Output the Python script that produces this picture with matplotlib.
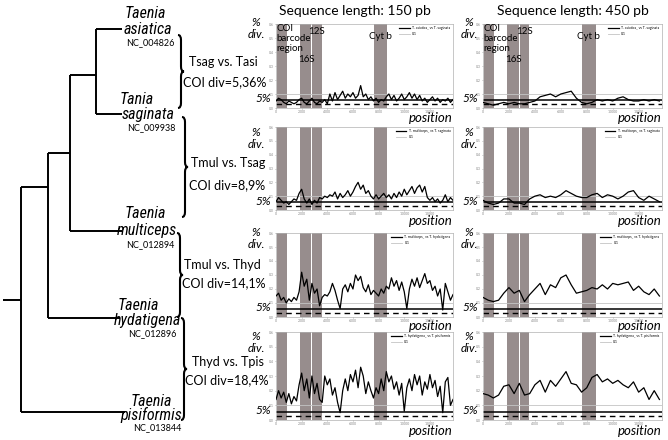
import matplotlib
matplotlib.use('Agg')
import matplotlib.pyplot as plt
from matplotlib import font_manager
from matplotlib.path import Path
from matplotlib.patches import PathPatch
from matplotlib.transforms import blended_transform_factory

W, H = 668, 440

# positions (bp) for the 150 pb windows and the 450 pb windows
pos_150 = list(range(0, 14000, 200))
pos_450 = list(range(0, 14000, 400))

# sliding-window divergence
tsag_tasi_150 = [0.05, 0.07, 0.06, 0.04, 0.03, 0.05, 0.04, 0.03, 0.04, 0.06,
                 0.07, 0.04, 0.03, 0.05, 0.07, 0.04, 0.03, 0.05, 0.04, 0.06,
                 0.03, 0.10, 0.05, 0.11, 0.06, 0.09, 0.12, 0.07, 0.10, 0.08,
                 0.11, 0.07, 0.09, 0.16, 0.08, 0.10, 0.06, 0.08, 0.05, 0.07,
                 0.04, 0.06, 0.05, 0.08, 0.10, 0.06, 0.09, 0.05, 0.07, 0.10,
                 0.06, 0.08, 0.11, 0.07, 0.10, 0.06, 0.09, 0.05, 0.07, 0.04,
                 0.06, 0.08, 0.05, 0.07, 0.04, 0.06, 0.05, 0.07, 0.04, 0.06]
tsag_tasi_450 = [0.04, 0.03, 0.02, 0.03, 0.04, 0.03, 0.04, 0.03, 0.03, 0.04,
                 0.05, 0.08, 0.09, 0.10, 0.08, 0.10, 0.11, 0.12, 0.07, 0.04,
                 0.03, 0.04, 0.06, 0.05, 0.06, 0.05, 0.07, 0.08, 0.06, 0.05,
                 0.05, 0.06, 0.05, 0.06, 0.05]

tmul_tsag_150 = [0.06, 0.09, 0.07, 0.05, 0.06, 0.04, 0.06, 0.08, 0.07, 0.12,
                 0.15, 0.08, 0.05, 0.08, 0.04, 0.07, 0.05, 0.09, 0.08, 0.10,
                 0.09, 0.11, 0.10, 0.13, 0.08, 0.12, 0.09, 0.11, 0.14, 0.10,
                 0.13, 0.17, 0.20, 0.15, 0.18, 0.12, 0.14, 0.10, 0.08, 0.11,
                 0.08, 0.10, 0.12, 0.09, 0.11, 0.08, 0.12, 0.09, 0.13, 0.10,
                 0.15, 0.11, 0.14, 0.17, 0.12, 0.16, 0.18, 0.13, 0.17, 0.09,
                 0.07, 0.09, 0.06, 0.08, 0.05, 0.07, 0.11, 0.06, 0.09, 0.07]
tmul_tsag_450 = [0.07, 0.05, 0.04, 0.05, 0.08, 0.08, 0.05, 0.05, 0.04, 0.08,
                 0.10, 0.11, 0.09, 0.10, 0.09, 0.11, 0.14, 0.12, 0.10, 0.09,
                 0.09, 0.11, 0.12, 0.09, 0.11, 0.10, 0.08, 0.10, 0.13, 0.14,
                 0.09, 0.07, 0.10, 0.08, 0.06]

tmul_thyd_150 = [0.15, 0.17, 0.12, 0.14, 0.10, 0.13, 0.11, 0.14, 0.12, 0.18,
                 0.32, 0.22, 0.27, 0.12, 0.24, 0.17, 0.20, 0.08, 0.14, 0.16,
                 0.15, 0.18, 0.24, 0.19, 0.12, 0.06, 0.20, 0.23, 0.18, 0.24,
                 0.20, 0.30, 0.26, 0.29, 0.21, 0.18, 0.23, 0.16, 0.19, 0.17,
                 0.15, 0.20, 0.17, 0.22, 0.20, 0.28, 0.22, 0.26, 0.19, 0.25,
                 0.18, 0.06, 0.20, 0.27, 0.22, 0.28, 0.21, 0.26, 0.31, 0.24,
                 0.26, 0.19, 0.22, 0.15, 0.20, 0.05, 0.24, 0.18, 0.12, 0.16]
tmul_thyd_450 = [0.14, 0.12, 0.11, 0.12, 0.17, 0.21, 0.17, 0.19, 0.11, 0.16,
                 0.20, 0.24, 0.16, 0.23, 0.21, 0.28, 0.30, 0.23, 0.17, 0.18,
                 0.19, 0.21, 0.20, 0.23, 0.20, 0.24, 0.23, 0.24, 0.25, 0.19,
                 0.22, 0.18, 0.16, 0.20, 0.15]

thyd_tpis_150 = [0.14, 0.20, 0.15, 0.19, 0.12, 0.18, 0.11, 0.16, 0.13, 0.24,
                 0.32, 0.20, 0.28, 0.15, 0.30, 0.18, 0.25, 0.14, 0.12, 0.30,
                 0.24, 0.28, 0.17, 0.22, 0.12, 0.05, 0.20, 0.28, 0.20, 0.31,
                 0.26, 0.34, 0.22, 0.36, 0.30, 0.18, 0.26, 0.20, 0.15, 0.22,
                 0.18, 0.28, 0.20, 0.33, 0.26, 0.30, 0.21, 0.26, 0.17, 0.25,
                 0.06, 0.22, 0.28, 0.20, 0.31, 0.24, 0.30, 0.17, 0.26, 0.21,
                 0.31, 0.22, 0.27, 0.16, 0.23, 0.05, 0.26, 0.29, 0.10, 0.14]
thyd_tpis_450 = [0.18, 0.17, 0.15, 0.17, 0.23, 0.24, 0.18, 0.25, 0.17, 0.18,
                 0.24, 0.27, 0.19, 0.27, 0.23, 0.28, 0.33, 0.25, 0.24, 0.19,
                 0.22, 0.29, 0.31, 0.26, 0.28, 0.25, 0.27, 0.24, 0.22, 0.26,
                 0.19, 0.22, 0.14, 0.20, 0.14]

rows_150 = [tsag_tasi_150, tmul_tsag_150, tmul_thyd_150, thyd_tpis_150]
rows_450 = [tsag_tasi_450, tmul_tsag_450, tmul_thyd_450, thyd_tpis_450]
legend_names = ['T. asiatica_ vs T. saginata', 'T. multiceps_ vs T. saginata',
                'T. multiceps_ vs T. hydatigena', 'T. hydatigena_ vs T. pisiformis']
pair_labels = ['Tsag vs. Tasi', 'Tmul vs. Tsag', 'Tmul vs. Thyd', 'Thyd vs. Tpis']
coi_labels = ['COI div=5,36%', 'COI div=8,9%', 'COI div=14,1%', 'COI div=18,4%']

# gene regions (bp)
genes = ['COI', '16S', '12S', 'Cyt b']
gene_start = [90, 1860, 2830, 7630]
gene_end = [830, 2740, 3580, 8680]

species_top = ['Taenia', 'Tania', 'Taenia', 'Taenia', 'Taenia']
species_bottom = ['asiatica', 'saginata', 'multiceps', 'hydatigena', 'pisiformis']
accessions = ['NC_004826', 'NC_009938', 'NC_012894', 'NC_012896', 'NC_013844']

band_color = '#978d8d'

# pick a narrow face if one is installed
fonts = font_manager.fontManager.ttflist
names = {f.name for f in fonts}
narrow = dict(family=['Lato', 'DejaVu Sans'])
for cand in ['Liberation Sans Narrow', 'Roboto Condensed', 'Open Sans Condensed',
             'Noto Sans Condensed']:
    if cand in names:
        narrow = dict(family=[cand, 'DejaVu Sans'])
        break
else:
    if any(f.name == 'DejaVu Sans' and f.stretch == 'condensed' for f in fonts):
        narrow = dict(family=['DejaVu Sans'], stretch='condensed')

plt.rcParams['font.family'] = ['Lato', 'DejaVu Sans']

fig = plt.figure(figsize=(W / 100, H / 100), dpi=100)
ov = fig.add_axes([0, 0, 1, 1])
ov.set_xlim(0, W)
ov.set_ylim(H, 0)
ov.axis('off')

# ---- tree -------------------------------------------------------------
segs = [
    [(96, 29), (122, 29)], [(96, 114), (122, 114)], [(96, 29), (96, 114)],
    [(70, 75), (96, 75)], [(70, 75), (70, 231)], [(70, 231), (122, 231)],
    [(48, 153), (70, 153)], [(48, 153), (48, 318)], [(48, 318), (120, 318)],
    [(21, 187), (48, 187)], [(21, 187), (21, 412)], [(21, 412), (125, 412)],
    [(3, 300), (21, 300)],
]
for s in segs:
    ov.plot([s[0][0], s[1][0]], [s[0][1], s[1][1]], color='black', lw=1.4,
            solid_capstyle='butt')

name_xy = [(145, 14, 148, 29, 150, 43), (137, 99, 148, 115, 151, 128),
           (145, 213, 147, 231, 150, 245), (138, 306, 148, 321, 152, 334),
           (151, 401, 151, 415, 157, 428)]
for i in range(5):
    tx, ty, bx, by, ax_, ay = name_xy[i]
    ov.text(tx, ty, species_top[i], ha='center', va='center', fontsize=11.5,
            style='italic', **narrow)
    ov.text(bx, by, species_bottom[i], ha='center', va='center', fontsize=11.5,
            style='italic', **narrow)
    ov.text(ax_, ay, accessions[i], ha='center', va='center', fontsize=6.5)


def brace(ax, x, y0, y1, w=6, lw=1.5):
    ym = (y0 + y1) / 2
    q = 5
    xm = x + w / 2
    verts = [(x, y0), (xm, y0), (xm, y0 + q), (xm, ym - q), (xm, ym), (x + w, ym),
             (xm, ym), (xm, ym + q), (xm, y1 - q), (xm, y1), (x, y1)]
    codes = [Path.MOVETO, Path.CURVE3, Path.CURVE3, Path.LINETO, Path.CURVE3,
             Path.CURVE3, Path.CURVE3, Path.CURVE3, Path.LINETO, Path.CURVE3,
             Path.CURVE3]
    ax.add_patch(PathPatch(Path(verts, codes), fill=False, lw=lw, color='black'))


brace_geom = [(178, 35, 108), (182, 117, 217), (177, 233, 317), (181, 318, 420)]
pair_xy = [(223, 62, 225, 82), (228, 163, 227, 185), (222, 265, 224, 283),
           (228, 362, 227, 380)]
for i in range(4):
    bx, y0, y1 = brace_geom[i]
    brace(ov, bx, y0, y1)
    px, py, cx, cy = pair_xy[i]
    ov.text(px, py, pair_labels[i], ha='center', va='center', fontsize=9)
    ov.text(cx, cy, coi_labels[i], ha='center', va='center', fontsize=9)

# ---- panels -----------------------------------------------------------
col_x = [(276, 453), (483, 662)]
row_y = [(24, 108), (127, 210), (233, 317), (332, 420)]
pct_y = [22, 132, 232, 336]
div_y = [34, 144, 245, 348]
pos_y = [118, 221, 326, 431]
titles = ['Sequence length: 150 pb', 'Sequence length: 450 pb']
title_x = [355, 573]

for c in range(2):
    x0, x1 = col_x[c]
    ov.text(title_x[c], 11, titles[c], ha='center', va='center', fontsize=10)
    for r in range(4):
        y0, y1 = row_y[r]
        ax = fig.add_axes([x0 / W, 1 - y1 / H, (x1 - x0) / W, (y1 - y0) / H])
        for g in range(4):
            ax.axvspan(gene_start[g], gene_end[g], color=band_color, lw=0, zorder=1)
        if c == 0:
            xs, ys = pos_150, rows_150[r]
        else:
            xs, ys = pos_450, rows_450[r]
        ax.plot(xs, ys, color='black', lw=0.9, zorder=3, label=legend_names[r])
        ax.axhline(0.1, color='#c4c4c4', lw=0.6, zorder=2, label='0.1')
        ax.axhline(0.055, color='black', lw=1.1, zorder=2)
        ax.axhline(0.028, color='black', lw=1.0, ls=(0, (4, 3)), zorder=2)
        ax.set_xlim(0, 13800)
        ax.set_ylim(0, 0.6)
        ax.set_xticks(range(0, 13000, 2000))
        ax.set_yticks([0, 0.1, 0.2, 0.3, 0.4, 0.5, 0.6])
        ax.tick_params(length=1, width=0.4, labelsize=2.5, pad=0.5, colors='#888888')
        for sp in ax.spines.values():
            sp.set_color('#b0b0b0')
            sp.set_linewidth(0.5)
        ax.legend(loc='upper right', fontsize=2.5, frameon=False,
                  handlelength=3, borderaxespad=0.3)
        tr = blended_transform_factory(ax.transAxes, ax.transData)
        ax.text(-0.03, 0.065, '5%', transform=tr, ha='right', va='center',
                fontsize=8.5, style='italic')
        if r == 0:
            ax.text(60, 0.6, 'COI\nbarcode\nregion', ha='left', va='top',
                    fontsize=7, linespacing=1.15, zorder=4)
            ax.text(2350, 0.345, '16S', ha='center', va='center', fontsize=7, zorder=4)
            ax.text(3200, 0.545, '12S', ha='center', va='center', fontsize=7, zorder=4)
            ax.text(8150, 0.51, 'Cyt b', ha='center', va='center', fontsize=7, zorder=4)
        pct_x = x0 - (20 if c == 0 else 14)
        ov.text(pct_x, pct_y[r], '%', ha='center', va='center', fontsize=8.5,
                style='italic')
        ov.text(pct_x, div_y[r], 'div.', ha='center', va='center', fontsize=8.5,
                style='italic')
        ov.text(x1, pos_y[r], 'position', ha='right', va='center', fontsize=9.5,
                style='italic')

fig.savefig('out.png', dpi=100)
